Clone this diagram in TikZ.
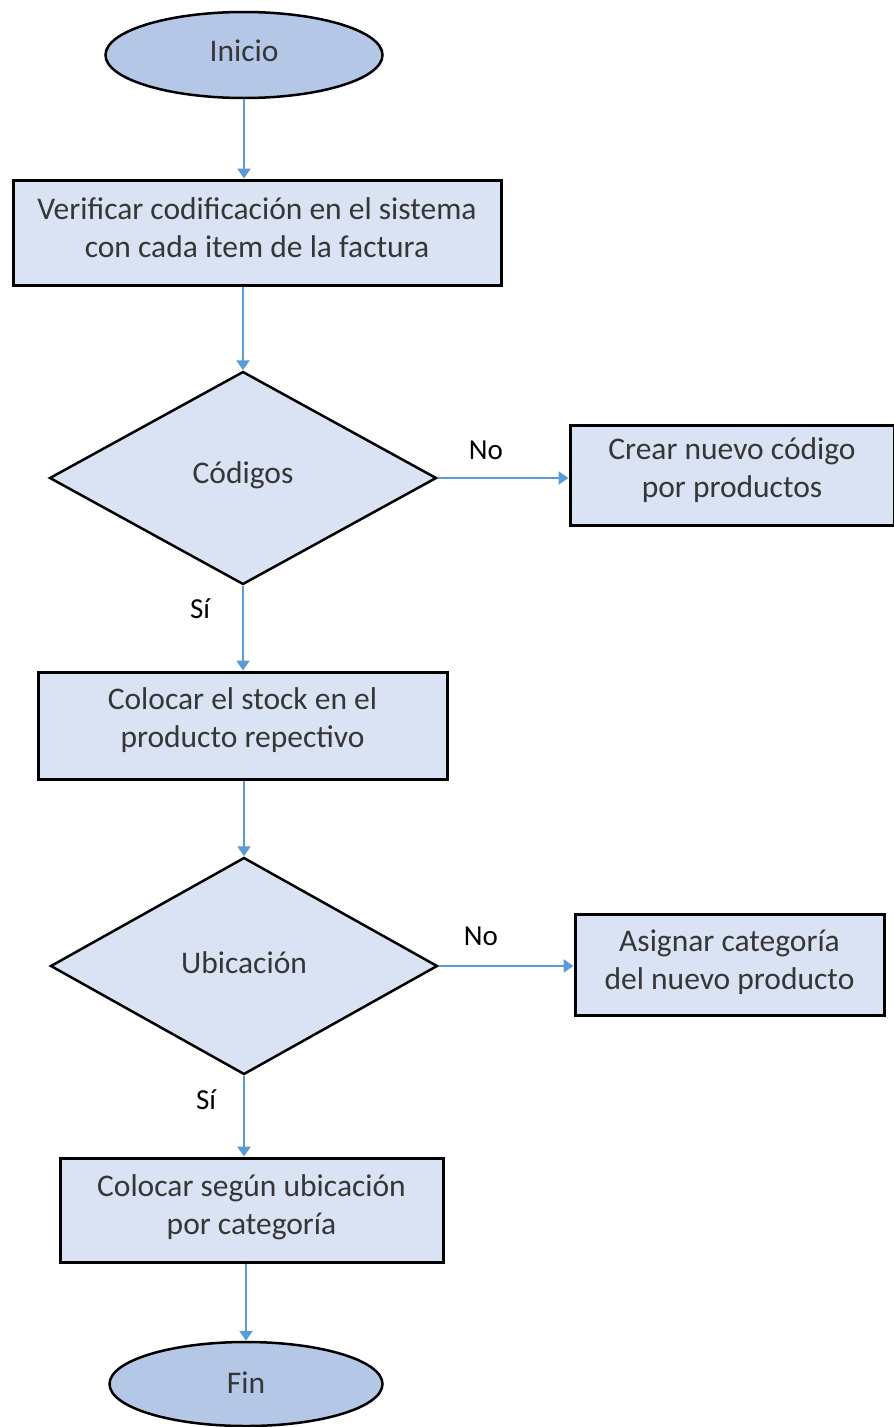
\documentclass[tikz,border=0pt]{standalone}
\usepackage{fontspec}
\setmainfont{Carlito}
\usetikzlibrary{shapes.geometric,arrows.meta}
\definecolor{termfill}{HTML}{B4C7E7}
\definecolor{procfill}{HTML}{DAE3F3}
\definecolor{flowblue}{HTML}{5B9BD5}
\definecolor{txt}{HTML}{363636}
\tikzset{
  base/.style={font=\fontsize{31.5}{38}\selectfont, text=txt, align=center, inner sep=0pt},
  term/.style={ellipse, draw=black, line width=2.5pt, fill=termfill, minimum width=277pt, minimum height=86pt},
  proc/.style={rectangle, draw=black, line width=3pt, fill=procfill},
  decide/.style={diamond, draw=black, line width=2.5pt, fill=procfill, aspect=1.8, minimum width=387pt, minimum height=213pt},
  flow/.style={draw=flowblue, line width=2.5pt, -{Triangle[width=13pt,length=10pt]}},
  lbl/.style={font=\fontsize{29}{32}\selectfont, text=black, inner sep=0pt}
}
\begin{document}
\begin{tikzpicture}[x=1pt,y=1pt]
\useasboundingbox (0,0) rectangle (894,-1427);
% shapes
\node[term] (inicio) at (244,-55) {};
\node[proc, minimum width=488pt, minimum height=105pt] (verif) at (257,-232.5) {};
\node[decide] (cod) at (243,-478) {};
\node[proc, minimum width=324pt, minimum height=100pt] (crear) at (732,-475) {};
\node[proc, minimum width=409pt, minimum height=107pt] (colocar) at (242.5,-725.5) {};
\node[decide, minimum height=217pt] (ubic) at (244,-966) {};
\node[proc, minimum width=309pt, minimum height=101pt] (asignar) at (729.5,-964.5) {};
\node[proc, minimum width=383pt, minimum height=104pt] (segun) at (251.5,-1210) {};
\node[term, minimum width=273pt, minimum height=84pt] (fin) at (246,-1384) {};
% texts, set slightly above the shape centres
\node[base] (inicio-t) at ([yshift=4pt]inicio) {Inicio};
\node[base] (verif-t) at ([yshift=4.5pt]verif) {Verificar codificación en el sistema\\con cada item de la factura};
\node[base] (cod-t) at ([yshift=3pt]cod) {Códigos};
\node[base] (crear-t) at ([yshift=5pt]crear) {Crear nuevo código\\por productos};
\node[base] (colocar-t) at ([yshift=5pt]colocar) {Colocar el stock en el\\producto repectivo};
\node[base] (ubic-t) at ([yshift=3pt]ubic) {Ubicación};
\node[base] (asignar-t) at ([yshift=2pt]asignar) {Asignar categoría\\del nuevo producto};
\node[base] (segun-t) at ([yshift=3pt]segun) {Colocar según ubicación\\por categoría};
\node[base] (fin-t) at ([yshift=1pt]fin) {Fin};
% branch labels
\node[lbl] (no1) at (486,-450) {No};
\node[lbl] (si1) at (200,-609) {Sí};
\node[lbl] (no2) at (481,-936) {No};
\node[lbl] (si2) at (206,-1100) {Sí};
% connectors
\draw[flow] (inicio.south) -- (inicio.south |- verif.north);
\draw[flow] (verif.south -| cod.north) -- (cod.north);
\draw[flow] (cod.east) -- (crear.west |- cod.east);
\draw[flow] (cod.south) -- (cod.south |- colocar.north);
\draw[flow] (colocar.south -| ubic.north) -- (ubic.north);
\draw[flow] (ubic.east) -- (asignar.west |- ubic.east);
\draw[flow] (ubic.south) -- (ubic.south |- segun.north);
\draw[flow] (segun.south -| fin.north) -- (fin.north);
\end{tikzpicture}
\end{document}
